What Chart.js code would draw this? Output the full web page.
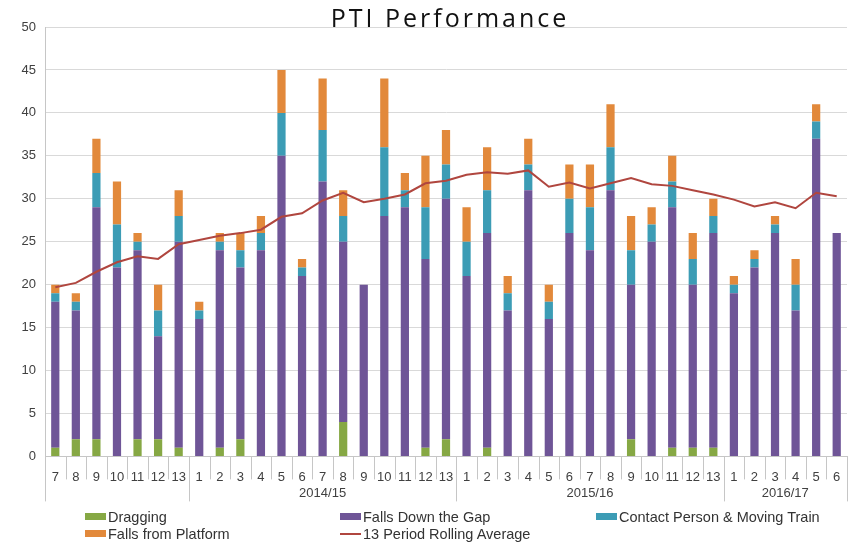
<!DOCTYPE html>
<html>
<head>
<meta charset="utf-8">
<title>PTI Performance</title>
<script src="https://cdn.jsdelivr.net/npm/chart.js@4.4.1/dist/chart.umd.min.js"></script>
<style>
  html, body { margin: 0; padding: 0; background: #fff; }
  #wrap { position: relative; width: 858px; height: 553px; }
  #legend {
    position: absolute; left: 85px; top: 508px;
    display: grid; grid-template-columns: 255px 256px auto;
    font: 14.5px "Liberation Sans", Arial, sans-serif; color: #333;
  }
  .item { display: flex; align-items: center; height: 17px; white-space: nowrap; }
  .swatch { width: 21px; height: 7px; margin-right: 2px; }
  .swatch.line { height: 2px; }
</style>
</head>
<body>
<div id="wrap">
  <canvas id="chart" width="858" height="553"></canvas>
  <div id="legend"></div>
</div>
<script>
const titleText = 'PTI Performance';

// period numbers, grouped by financial year
const periods = ['7', '8', '9', '10', '11', '12', '13',
  '1', '2', '3', '4', '5', '6', '7', '8', '9', '10', '11', '12', '13',
  '1', '2', '3', '4', '5', '6', '7', '8', '9', '10', '11', '12', '13',
  '1', '2', '3', '4', '5', '6'];
const yearGroups = ['', '2014/15', '2015/16', '2016/17'];
const yearGroupSizes = [7, 13, 13, 6];

const dragging = [1, 2, 2, 0, 2, 2, 1,
  0, 1, 2, 0, 0, 0, 0, 4, 0, 0, 0, 1, 2,
  0, 1, 0, 0, 0, 0, 0, 0, 2, 0, 1, 1, 1,
  0, 0, 0, 0, 0, 0];
const fallsDownGap = [17, 15, 27, 22, 22, 12, 24,
  16, 23, 20, 24, 35, 21, 32, 21, 20, 28, 29, 22, 28,
  21, 25, 17, 31, 16, 26, 24, 31, 18, 25, 28, 19, 25,
  19, 22, 26, 17, 37, 26];
const contactMovingTrain = [1, 1, 4, 5, 1, 3, 3,
  1, 1, 2, 2, 5, 1, 6, 3, 0, 8, 2, 6, 4,
  4, 5, 2, 3, 2, 4, 5, 5, 4, 2, 3, 3, 2,
  1, 1, 1, 3, 2, 0];
const fallsFromPlatform = [1, 1, 4, 5, 1, 3, 3,
  1, 1, 2, 2, 5, 1, 6, 3, 0, 8, 2, 6, 4,
  4, 5, 2, 3, 2, 4, 5, 5, 4, 2, 3, 3, 2,
  1, 1, 1, 3, 2, 0];
const rollingAverage = [19.7, 20.2, 21.5, 22.6, 23.3, 23.0, 24.7,
  25.2, 25.7, 26.0, 26.4, 27.9, 28.3, 29.8, 30.7, 29.6, 30.0, 30.5, 31.8, 32.1,
  32.8, 33.1, 32.9, 33.3, 31.4, 31.9, 31.2, 31.8, 32.4, 31.7, 31.5, 31.0, 30.5,
  29.9, 29.1, 29.6, 28.9, 30.7, 30.3];

const textColor = '#404040';
const axisColor = '#c6c6c6';
const tickFont = { family: '"Liberation Sans", Arial, sans-serif', size: 13 };

// title with wide letter spacing, sitting on the top gridline
const spacedTitle = {
  id: 'spacedTitle',
  afterDraw(chart) {
    const c = chart.ctx;
    const area = chart.chartArea;
    c.save();
    c.font = '25px "Open Sans", sans-serif';
    c.letterSpacing = '3px';
    c.fillStyle = '#111';
    c.textAlign = 'center';
    c.textBaseline = 'alphabetic';
    c.fillText(titleText, (area.left + area.right) / 2 + 4, area.top);
    c.restore();
  }
};

// cell separators under the axis and the financial year row
const periodGroups = {
  id: 'periodGroups',
  afterDraw(chart) {
    const x = chart.scales.x;
    const c = chart.ctx;
    const bottom = chart.chartArea.bottom;
    const step = x.getPixelForValue(1) - x.getPixelForValue(0);
    const starts = [0];
    yearGroupSizes.forEach(n => starts.push(starts[starts.length - 1] + n));

    c.save();
    c.strokeStyle = axisColor;
    c.lineWidth = 1;
    for (let i = 0; i <= periods.length; i++) {
      const px = Math.round(x.getPixelForValue(i) - step / 2) + 0.5;
      const long = starts.includes(i);
      c.beginPath();
      c.moveTo(px, bottom);
      c.lineTo(px, bottom + (long ? 45 : 23));
      c.stroke();
    }
    c.fillStyle = textColor;
    c.font = '13px "Liberation Sans", Arial, sans-serif';
    c.textAlign = 'center';
    c.textBaseline = 'middle';
    yearGroups.forEach((label, g) => {
      const a = x.getPixelForValue(starts[g]) - step / 2;
      const b = x.getPixelForValue(starts[g + 1] - 1) + step / 2;
      c.fillText(label, (a + b) / 2, bottom + 37);
    });
    c.restore();
  }
};

const barStyle = { stack: 'incidents', barPercentage: 0.4, categoryPercentage: 1 };

const chart = new Chart(document.getElementById('chart'), {
  type: 'bar',
  data: {
    labels: periods,
    datasets: [
      { label: 'Dragging', data: dragging, backgroundColor: '#86A844', ...barStyle },
      { label: 'Falls Down the Gap', data: fallsDownGap, backgroundColor: '#6F5597', ...barStyle },
      { label: 'Contact Person & Moving Train', data: contactMovingTrain, backgroundColor: '#3C9CB5', ...barStyle },
      { label: 'Falls from Platform', data: fallsFromPlatform, backgroundColor: '#E2893B', ...barStyle },
      {
        type: 'line',
        label: '13 Period Rolling Average',
        data: rollingAverage,
        stack: 'average',
        borderColor: '#B0463F',
        backgroundColor: '#B0463F',
        borderWidth: 2,
        pointRadius: 0,
        tension: 0,
        order: -1
      }
    ]
  },
  options: {
    responsive: false,
    animation: false,
    layout: { padding: { top: 27, right: 11, bottom: 63, left: 0 } },
    plugins: {
      legend: { display: false },
      title: { display: false },
      tooltip: { enabled: false }
    },
    scales: {
      x: {
        stacked: true,
        grid: { display: false },
        border: { color: axisColor },
        ticks: { color: textColor, font: tickFont, padding: 5, autoSkip: false, maxRotation: 0 }
      },
      y: {
        stacked: true,
        min: 0,
        max: 50,
        grid: { color: '#d9d9d9', drawTicks: false },
        border: { color: axisColor },
        ticks: { stepSize: 5, color: textColor, font: tickFont, padding: 9 },
        afterFit(scale) { scale.width = 45; }
      }
    }
  },
  plugins: [periodGroups, spacedTitle]
});

// legend in three columns like the original
const legendEl = document.getElementById('legend');
chart.data.datasets.forEach(ds => {
  const item = document.createElement('div');
  item.className = 'item';
  const sw = document.createElement('span');
  sw.className = 'swatch' + (ds.type === 'line' ? ' line' : '');
  sw.style.background = ds.type === 'line' ? ds.borderColor : ds.backgroundColor;
  item.appendChild(sw);
  item.appendChild(document.createTextNode(ds.label));
  legendEl.appendChild(item);
});
</script>
</body>
</html>
